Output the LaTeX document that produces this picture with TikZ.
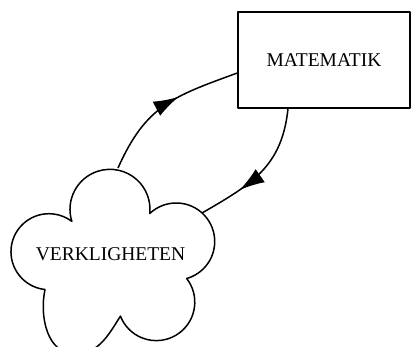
\documentclass[tikz,border=0pt]{standalone}
\usepackage{fontspec}
\setmainfont{Liberation Serif}
\usetikzlibrary{arrows.meta,decorations.markings}
\begin{document}
\begin{tikzpicture}[x=1pt,y=1pt, line join=round,
  outline/.style={line width=1.5pt},
  flow/.style={line width=1.5pt, postaction={decorate},
    decoration={markings, mark=at position #1 with {\arrow{Latex[length=25pt,width=16pt]}}}},
  box/.style={draw, line width=1.3pt, minimum width=172pt, minimum height=96pt,
    inner sep=0pt, font=\fontsize{19.5}{21}\selectfont},
  lbl/.style={font=\fontsize{19.5}{21}\selectfont, inner sep=0pt}]
\useasboundingbox (0,0) rectangle (411,346);
\clip (0,0) rectangle (411,346);
\node[box] (mat) at (324,286) {MATEMATIK};
% cloud
\draw[outline] (45,56.5) arc[start angle=264, end angle=53, radius=38]
  arc[start angle=197.5, end angle=-6, radius=40]
  arc[start angle=133.4, end angle=-74.2, radius=38.5]
  arc[start angle=37.8, end angle=-158.7, radius=38.5]
  to[out=238, in=0] (75,-8)
  to[out=180, in=258] (45,56.5) -- cycle;
\node[lbl] (verk) at (110.5,92) {VERKLIGHETEN};
\coordinate (cloudtop) at (118,178);
\coordinate (cloudright) at (202,133);
\draw[flow=0.6] (cloudtop) to[out=66, in=200, looseness=1.15] ([yshift=-13pt]mat.west);
\draw[flow=0.69] ([xshift=-36pt]mat.south) to[out=264, in=30, looseness=1.1] (cloudright);
\end{tikzpicture}
\end{document}
